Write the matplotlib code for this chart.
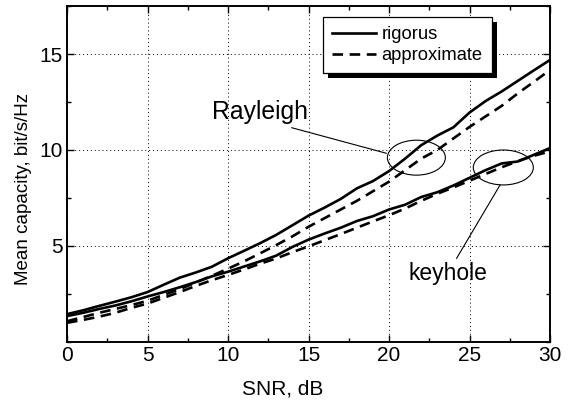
import matplotlib
matplotlib.use("Agg")
import matplotlib.pyplot as plt
from matplotlib.patches import Ellipse, Rectangle
from matplotlib.ticker import MultipleLocator, FixedLocator
from matplotlib.transforms import IdentityTransform

plt.rcParams['font.family'] = ['Liberation Sans', 'DejaVu Sans']

snr = list(range(0, 31))
rayleigh_rigorous = [1.45, 1.65, 1.88, 2.10, 2.33, 2.60, 2.98, 3.35, 3.62, 3.92, 4.36,
                     4.75, 5.15, 5.58, 6.08, 6.58, 7.00, 7.45, 8.00, 8.38, 8.90,
                     9.55, 10.25, 10.75, 11.18, 11.95, 12.55, 13.05, 13.60, 14.15, 14.69]
rayleigh_approx = [1.08, 1.30, 1.52, 1.72, 1.92, 2.15, 2.45, 2.75, 3.10, 3.45, 3.82,
                   4.20, 4.62, 5.05, 5.50, 6.00, 6.45, 6.90, 7.35, 7.85, 8.35,
                   8.95, 9.55, 10.00, 10.60, 11.20, 11.75, 12.30, 12.95, 13.55, 14.17]
keyhole_rigorous = [1.35, 1.52, 1.72, 1.90, 2.12, 2.37, 2.60, 2.85, 3.12, 3.42, 3.66,
                    3.93, 4.20, 4.50, 4.95, 5.33, 5.65, 5.95, 6.30, 6.55, 6.90,
                    7.15, 7.55, 7.80, 8.15, 8.55, 8.95, 9.30, 9.40, 9.75, 10.10]
keyhole_approx = [1.00, 1.15, 1.32, 1.52, 1.78, 2.00, 2.30, 2.60, 2.92, 3.22, 3.49,
                  3.78, 4.08, 4.35, 4.68, 4.98, 5.30, 5.62, 5.95, 6.28, 6.60,
                  6.95, 7.35, 7.72, 8.05, 8.40, 8.75, 9.10, 9.42, 9.70, 9.93]
x_ticks = [0, 5, 10, 15, 20, 25, 30]
y_ticks = [5, 10, 15]

fig = plt.figure(figsize=(5.69, 4.03), dpi=100)
ax = fig.add_axes([0.1178, 0.1514, 0.8488, 0.8337])

lw = 1.9
dash = (0, (4.0, 2.5))
ax.plot(snr, rayleigh_rigorous, color='black', lw=lw, label='rigorus')
ax.plot(snr, rayleigh_approx, color='black', lw=lw, linestyle=dash, label='approximate')
ax.plot(snr, keyhole_rigorous, color='black', lw=lw)
ax.plot(snr, keyhole_approx, color='black', lw=lw, linestyle=dash)

ax.set_xlim(0, 30)
ax.set_ylim(0, 17.5)
ax.xaxis.set_major_locator(FixedLocator(x_ticks))
ax.xaxis.set_minor_locator(MultipleLocator(2.5))
ax.yaxis.set_major_locator(FixedLocator(y_ticks))
ax.yaxis.set_minor_locator(MultipleLocator(2.5))
ax.tick_params(which='both', direction='in', top=True, right=True, labelsize=15, width=1.0)
ax.tick_params(which='major', length=5, pad=3)
ax.tick_params(which='minor', length=3)
ax.grid(True, which='major', linestyle=(0, (1, 3)), color='black', lw=0.7)
for s in ax.spines.values():
    s.set_linewidth(1.4)

ax.set_xlabel('SNR, dB', fontsize=15)
ax.xaxis.set_label_coords(0.447, -0.113)
ax.set_ylabel('Mean capacity, bit/s/Hz', fontsize=13.5)
ax.yaxis.set_label_coords(-0.0725, 0.455)

# Ellipses and annotations
ax.add_patch(Ellipse((21.7, 9.6), 3.6, 1.82, fill=False, lw=0.8, color='black'))
ax.add_patch(Ellipse((27.1, 9.09), 3.73, 1.82, fill=False, lw=0.8, color='black'))
ax.plot([13.96, 19.83], [11.16, 9.83], color='black', lw=0.8)
ax.plot([24.2, 26.9], [4.36, 8.18], color='black', lw=0.8)
ax.text(8.98, 11.6, 'Rayleigh', fontsize=17.8, ha='left', va='baseline')
ax.text(26.1, 3.23, 'keyhole', fontsize=16.5, ha='right', va='baseline')

leg = ax.legend(loc='upper left', bbox_to_anchor=(0.53, 0.967), borderaxespad=0,
                fontsize=13.2, fancybox=False, frameon=True, framealpha=1,
                edgecolor='black', handlelength=2.4, handletextpad=0.3,
                borderpad=0.5, labelspacing=0.2)
leg.get_frame().set_linewidth(0.9)
leg.set_zorder(6)

fig.canvas.draw()
bb = leg.get_window_extent()
shadow = Rectangle((bb.x0 + 5, bb.y0 - 5), bb.width, bb.height, transform=IdentityTransform(),
                   facecolor='black', edgecolor='none', zorder=5.5, clip_on=False)
ax.add_artist(shadow)

fig.savefig('out.png', dpi=100)
